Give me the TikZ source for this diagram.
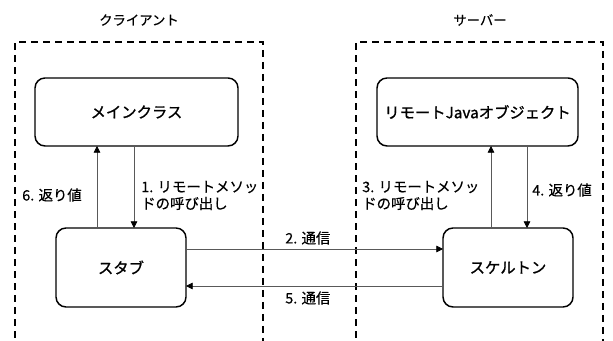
\documentclass[tikz,border=0pt]{standalone}
\usepackage{fontspec}
\setmainfont{Noto Sans CJK JP}
\newfontfamily\boxf{Noto Sans CJK JP}[FakeBold=1.0]
\newfontfamily\lblf{Noto Sans CJK JP}[FakeBold=0.4]
\usetikzlibrary{arrows.meta}
\begin{document}
\begin{tikzpicture}[x=0.75pt,y=-0.75pt,
  grp/.style={draw=black,line width=1.6pt,dash pattern=on 5.5pt off 3.5pt},
  box/.style={draw=black,line width=1.1pt,rounded corners=7.5pt,fill=white},
  conn/.style={draw=black!65,line width=0.6pt,-{Triangle[length=5pt,width=5pt,fill=black,color=black]}},
  boxtext/.style={font=\boxf\fontsize{11.5pt}{13pt}\selectfont},
  lbl/.style={font=\lblf\fontsize{10.8pt}{12.6pt}\selectfont,inner sep=0pt,align=left,anchor=west},
  title/.style={font=\lblf\fontsize{10pt}{11pt}\selectfont,inner sep=0pt}]
\useasboundingbox (0,0) rectangle (613,341);
\fill[white] (0,0) rectangle (613,341);
% groups
\coordinate (cl1) at (15,350); \coordinate (cl2) at (15,42);
\coordinate (cl3) at (263,42); \coordinate (cl4) at (263,350);
\draw[grp] (cl1) -- (cl2) -- (cl3) -- (cl4);
\coordinate (sv1) at (356,350); \coordinate (sv2) at (356,42);
\coordinate (sv3) at (603,42); \coordinate (sv4) at (603,350);
\draw[grp] (sv1) -- (sv2) -- (sv3) -- (sv4);
\node[title] (tc) at (139,20) {クライアント};
\node[title] (ts) at (480,20) {サーバー};
% boxes
\draw[box] (35,78) rectangle (238,146);
\node[boxtext] (main) at (136.5,112) {メインクラス};
\draw[box] (377,78) rectangle (578,146);
\node[boxtext] (remote) at (477.5,112) {リモートJavaオブジェクト};
\draw[box] (56,228) rectangle (186,307);
\node[boxtext] (stub) at (121,267.5) {スタブ};
\draw[box] (443,228) rectangle (573,307);
\node[boxtext] (skel) at (508,267.5) {スケルトン};
% coordinates for connectors
\coordinate (mA) at (97,146); \coordinate (sA) at (97,228);
\coordinate (mB) at (134,146); \coordinate (sB) at (134,228);
\coordinate (rA) at (491,146); \coordinate (kA) at (491,228);
\coordinate (rB) at (527,146); \coordinate (kB) at (527,228);
\coordinate (s2) at (186,249); \coordinate (k2) at (443,249);
\coordinate (s5) at (186,286); \coordinate (k5) at (443,286);
\draw[conn] (sA) -- (mA);
\draw[conn] (mB) -- (sB);
\draw[conn] (kA) -- (rA);
\draw[conn] (rB) -- (kB);
\draw[conn] (s2) -- (k2);
\draw[conn] (k5) -- (s5);
% labels
\node[lbl] (l6) at (22,195) {6. 返り値};
\node[lbl] (l1) at (141,195.5) {1. リモートメソッ\\ドの呼び出し};
\node[lbl] (l2) at (285,238) {2. 通信};
\node[lbl] (l5) at (285,298) {5. 通信};
\node[lbl] (l3) at (362,195.5) {3. リモートメソッ\\ドの呼び出し};
\node[lbl] (l4) at (532,190) {4. 返り値};
\end{tikzpicture}
\end{document}
